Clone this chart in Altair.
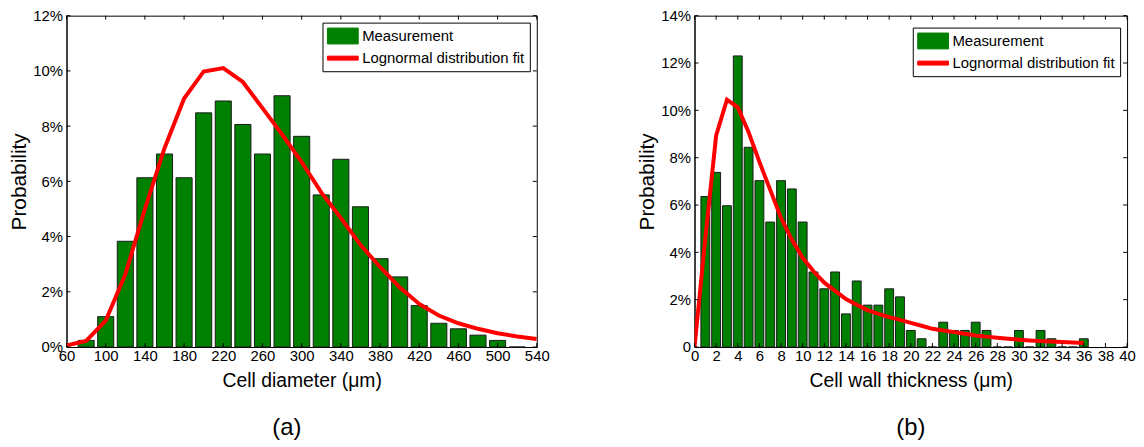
import altair as alt
import pandas as pd

FONT = "Liberation Sans"

# ---------------- Panel (a): cell diameter ----------------
diam_centers = [80, 100, 120, 140, 160, 180, 200, 220, 240, 260, 280, 300,
                320, 340, 360, 380, 400, 420, 440, 460, 480, 500, 520]
diam_prob = [0.24, 1.10, 3.83, 6.13, 6.99, 6.13, 8.48, 8.91, 8.06, 6.99, 9.10, 7.63,
             5.51, 6.80, 5.08, 3.20, 2.54, 1.50, 0.86, 0.66, 0.43, 0.24, 0.0]
diam_fit_x = [60, 80, 100, 120, 140, 160, 180, 200, 220, 240, 260, 280, 300,
              320, 340, 360, 380, 400, 420, 440, 460, 480, 500, 520, 540]
diam_fit_y = [0.06, 0.22, 0.96, 2.63, 5.0, 7.2, 9.0, 9.98, 10.1, 9.6, 8.65, 7.7, 6.7,
              5.6, 4.67, 3.7, 2.9, 2.16, 1.56, 1.14, 0.86, 0.66, 0.5, 0.38, 0.29]
diam_xticks = [60, 100, 140, 180, 220, 260, 300, 340, 380, 420, 460, 500, 540]
diam_yticks = [0, 2, 4, 6, 8, 10, 12]

# ---------------- Panel (b): cell wall thickness ----------------
wall_centers = list(range(1, 37))
wall_prob = [6.36, 7.38, 5.97, 12.3, 8.44, 7.03, 5.28, 7.03, 6.68, 5.28,
             3.17, 2.46, 3.17, 1.40, 2.79, 1.77, 1.77, 2.46, 2.12, 0.70,
             0.35, 0.0, 1.05, 0.70, 0.70, 1.05, 0.70, 0.0, 0.0, 0.70,
             0.0, 0.70, 0.35, 0.0, 0.0, 0.35]
wall_fit_x = list(range(0, 37))
wall_fit_y = [0.0, 4.6, 8.94, 10.45, 10.13, 9.08, 7.82, 6.64, 5.45, 4.54,
              3.77, 3.2, 2.72, 2.37, 2.03, 1.79, 1.56, 1.4, 1.26, 1.15,
              1.02, 0.9, 0.77, 0.7, 0.63, 0.56, 0.49, 0.44, 0.39, 0.35,
              0.31, 0.28, 0.25, 0.23, 0.21, 0.19, 0.17]
wall_xticks = list(range(0, 41, 2))
wall_yticks = [0, 2, 4, 6, 8, 10, 12, 14]

SERIES = ["Measurement", "Lognormal distribution fit"]
GREEN = "#008000"
RED = "#ff0000"


def panel(centers, probs, half, fit_x, fit_y, xdom, xticks, ydom, yticks,
          W, H, xtitle, ylabel_expr, caption, cap_dx, legx, legy):
    bars = pd.DataFrame({"x": centers, "p": probs, "series": SERIES[0]})
    fit = pd.DataFrame({"x": fit_x, "p": fit_y, "series": SERIES[1]})
    xt = pd.DataFrame({"t": xticks})
    yt = pd.DataFrame({"t": yticks})

    xscale = alt.Scale(domain=xdom, nice=False, zero=False)
    yscale = alt.Scale(domain=ydom, nice=False)
    xaxis = alt.Axis(values=xticks, ticks=False, labelPadding=2, title=xtitle,
                     titlePadding=8, grid=False, labelFlush=False, labelOverlap=False)
    yaxis = alt.Axis(values=yticks, ticks=False, labelPadding=4, title="Probability",
                     titlePadding=3, grid=False, labelExpr=ylabel_expr, labelFlush=False)
    cscale = alt.Scale(domain=SERIES, range=[GREEN, RED])
    legend = alt.Legend(
        title=None, orient="none", legendX=legx, legendY=legy, direction="vertical",
        labelFont=FONT, labelFontSize=15, labelColor="black",
        labelOffset=11, labelLimit=0,
        symbolSize=256, symbolOffset=7,
        symbolType={"expr": "datum.value == 'Measurement' ? 'M-1.94,-1H1.94V1H-1.94Z' : 'M-1.94,-0.25H1.94V0.25H-1.94Z'"},
        symbolStrokeWidth=1,
        symbolFillColor={"expr": "datum.value == 'Measurement' ? '#008000' : '#ff0000'"},
        symbolStrokeColor={"expr": "datum.value == 'Measurement' ? 'black' : '#ff0000'"},
        symbolOpacity=1,
        padding=5, rowPadding=3.3, strokeColor="black", fillColor="white",
        cornerRadius=0,
    )

    base_b = alt.Chart(bars).transform_calculate(
        lo=f"datum.x - {half}", hi=f"datum.x + {half}")
    bar_fill = base_b.mark_bar(strokeWidth=0).encode(
        x=alt.X("lo:Q", scale=xscale, axis=xaxis),
        x2="hi:Q",
        y=alt.Y("p:Q", scale=yscale, axis=yaxis),
        y2=alt.datum(0),
        color=alt.Color("series:N", scale=cscale, legend=legend),
    )
    bar_edge = base_b.mark_bar(fillOpacity=0, stroke="#1a1a1a", strokeWidth=1).encode(
        x=alt.X("lo:Q", scale=xscale, axis=xaxis),
        x2="hi:Q",
        y=alt.Y("p:Q", scale=yscale, axis=yaxis),
        y2=alt.datum(0),
    )
    line = alt.Chart(fit).mark_line(strokeWidth=4, clip=True).encode(
        x=alt.X("x:Q", scale=xscale, axis=xaxis),
        y=alt.Y("p:Q", scale=yscale, axis=yaxis),
        color=alt.Color("series:N", scale=cscale, legend=legend),
    )
    tk = 4
    xb = alt.Chart(xt).mark_rule(color="black", strokeWidth=1).encode(
        x=alt.X("t:Q", scale=xscale, axis=xaxis), y=alt.value(H), y2=alt.value(H - tk))
    xtop = alt.Chart(xt).mark_rule(color="black", strokeWidth=1).encode(
        x=alt.X("t:Q", scale=xscale, axis=xaxis), y=alt.value(0), y2=alt.value(tk))
    yl = alt.Chart(yt).mark_rule(color="black", strokeWidth=1).encode(
        y=alt.Y("t:Q", scale=yscale, axis=yaxis), x=alt.value(0), x2=alt.value(tk))
    yr = alt.Chart(yt).mark_rule(color="black", strokeWidth=1).encode(
        y=alt.Y("t:Q", scale=yscale, axis=yaxis), x=alt.value(W), x2=alt.value(W - tk))

    return alt.layer(bar_fill, bar_edge, line, xb, xtop, yl, yr).properties(
        width=W, height=H,
        title=alt.TitleParams(text=caption, orient="bottom", fontSize=24,
                              fontWeight="normal", font=FONT, color="black",
                              offset=26, dx=cap_dx, anchor="middle"),
    )


left = panel(diam_centers, diam_prob, 8.2, diam_fit_x, diam_fit_y, [60, 540],
             diam_xticks, [0, 12], diam_yticks, 474, 334, "Cell diameter (\u03bcm)",
             "datum.value + '%'", "(a)", -15, 258, 7)
right = panel(wall_centers, wall_prob, 0.41, wall_fit_x, wall_fit_y, [0, 40],
              wall_xticks, [0, 14], wall_yticks, 436, 334, "Cell wall thickness (\u03bcm)",
              "datum.value == 0 ? '0' : datum.value + '%'", "(b)", 0, 220, 12)

chart = alt.hconcat(left, right, spacing=86).resolve_scale(
    x="independent", y="independent", color="independent"
).resolve_legend(color="independent").properties(
    padding={"left": 0, "top": -2, "right": 0, "bottom": 0},
    background="white",
).configure_view(stroke="black", strokeWidth=1).configure_axis(
    domainColor="black", domainWidth=1, labelColor="black", titleColor="black",
    labelFont=FONT, titleFont=FONT, labelFontSize=15, titleFontSize=20,
    titleFontWeight="normal",
).configure_axisY(titleFontSize=21).configure_axisX(titleFontSize=19.5)

chart.save("out.html", embed_options={"renderer": "svg", "actions": False})
